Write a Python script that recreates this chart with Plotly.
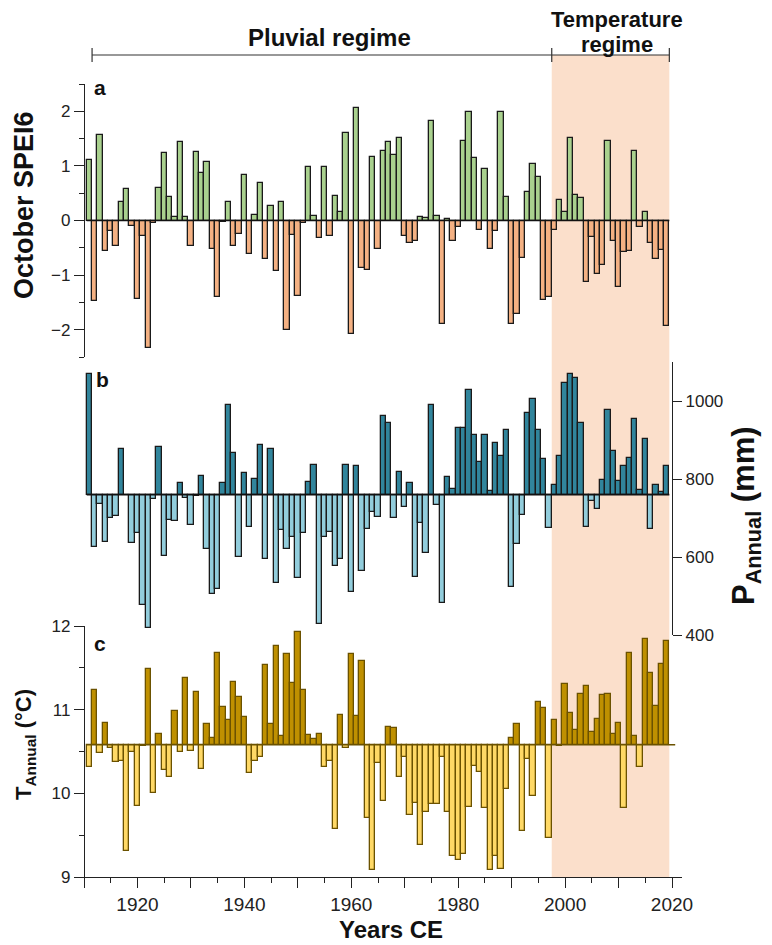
import plotly.graph_objects as go

# ---------------- data ----------------
years = list(range(1911, 2020))

spei_oct = [
    1.11, -1.47, 1.57, -0.56, -0.19, -0.46, 0.33, 0.58, -0.10, -1.44,   # 1911-1920
    -0.29, -2.34, -0.04, 0.60, 1.23, 0.43, 0.06, 1.44, 0.06, -0.46,     # 1921-1930
    1.26, 0.87, 1.08, -0.52, -1.41, -0.03, 0.33, -0.46, -0.24, 0.84,    # 1931-1940
    -0.61, 0.10, 0.68, -0.70, 0.27, -0.92, 0.33, -2.01, -0.26, -1.38,   # 1941-1950
    -0.04, 0.98, 0.09, -0.32, 0.98, -0.28, 0.44, 0.16, 1.61, -2.08,     # 1951-1960
    2.06, -0.87, -0.90, 1.17, -0.52, 1.28, 1.44, 1.20, 1.51, -0.28,     # 1961-1970
    -0.42, -0.37, 0.07, 0.05, 1.82, 0.09, -1.89, 0.02, -0.38, -0.12,    # 1971-1980
    1.46, 1.98, 1.14, -0.17, 0.94, -0.52, -0.20, 1.98, 0.43, -1.89,     # 1981-1990
    -1.72, -0.69, 0.53, 1.04, 0.79, -1.45, -1.41, -0.17, 0.38, 0.15,    # 1991-2000
    1.51, 0.46, 0.41, -1.13, -0.31, -0.98, -0.81, 1.45, -0.38, -1.21,   # 2001-2010
    -0.57, -0.55, 1.28, -0.11, 0.15, -0.42, -0.70, -0.54, -1.94,        # 2011-2019
]

p_annual = [
    1068.6, 626.7, 736.5, 637.8, 699.6, 705.6, 877.2, 758, 637, 661,
    476.5, 418, 749, 882, 603.5, 695.3, 693.6, 789.7, 751, 682.5,
    757, 806.9, 620.7, 504, 516.9, 789.7, 988.8, 867, 601, 815.4,
    678.2, 800.9, 886.7, 595, 878, 533, 669.6, 620.7, 650.7, 545,
    661, 792, 837, 429, 652.4, 663.6, 577.8, 595, 835, 509,
    832.6, 564, 672, 715, 702, 961, 944, 699.6, 818, 727,
    789.7, 549.5, 686.7, 609.5, 991, 734, 480.8, 805, 774, 929.6,
    931, 1027, 914, 843, 914, 768, 892.7, 860, 925, 523.7,
    633.5, 708, 968, 1004, 925, 851.5, 674, 785, 860, 1045,
    1068.6, 1060, 944, 678, 742.5, 723.6, 798, 976, 871, 794,
    834, 854, 952.7, 772.5, 903, 672, 785, 765.7, 834,
]

t_annual = [
    10.31, 11.24, 10.48, 10.84, 10.54, 10.37, 10.39, 9.31, 10.49, 9.85,
    10.57, 11.49, 10.00, 10.71, 10.28, 10.19, 10.98, 10.50, 11.38, 10.51,
    11.21, 10.29, 10.83, 10.66, 11.68, 11.03, 10.88, 11.33, 11.15, 10.91,
    10.24, 10.39, 10.43, 11.53, 10.83, 11.76, 10.69, 11.67, 11.32, 11.93,
    11.23, 10.70, 10.65, 10.71, 10.31, 10.39, 9.57, 10.94, 10.54, 11.66,
    10.93, 11.58, 9.71, 9.08, 10.36, 9.91, 10.79, 10.78, 10.20, 10.43,
    9.74, 9.88, 9.38, 9.78, 9.87, 9.87, 10.44, 9.78, 9.25, 9.20,
    9.27, 9.84, 10.33, 10.26, 9.83, 9.08, 9.25, 9.10, 10.05, 10.66,
    10.83, 9.55, 10.41, 9.97, 11.09, 11.02, 9.47, 10.88, 10.56, 11.31,
    10.96, 10.76, 11.19, 11.28, 10.73, 10.89, 11.18, 11.19, 10.71, 10.84,
    9.82, 11.68, 10.69, 10.32, 11.85, 11.44, 11.04, 11.55, 11.82,
]

SPEI_BASE = 0.0
P_BASE = 760.0
T_BASE = 10.58

x_tick_vals = [1910, 1920, 1930, 1940, 1950, 1960, 1970, 1980, 1990, 2000, 2010, 2020]
x_tick_text = ["", "1920", "", "1940", "", "1960", "", "1980", "", "2000", "", "2020"]
x_minor_vals = [1915, 1925, 1935, 1945, 1955, 1965, 1975, 1985, 1995, 2005, 2015]
spei_ticks = [-2, -1, 0, 1, 2]
p_ticks = [400, 600, 800, 1000]
t_ticks = [9, 10, 11, 12]

regime_start, regime_split, regime_end = 1911.5, 1997.5, 2019.5

# ---------------- styling / geometry ----------------
# the browser page adds an 8px body margin, so the figure is drawn 8px smaller
# and all page-pixel positions are shifted by that offset
OFF = 8
W, H = 772 - OFF, 945 - OFF
PLOT_L, PLOT_R, PLOT_T, PLOT_B = 84, 682, 84, 877          # page pixels
ML, MT = PLOT_L - OFF, PLOT_T - OFF
MR, MB = W - (PLOT_R - OFF), H - (PLOT_B - OFF)
PW, PH = W - ML - MR, H - MT - MB


def px_x(px):
    return (px - PLOT_L) / PW


def px_y(py):
    return (PLOT_B - py) / PH


FONT = "Liberation Sans, Arial, sans-serif"
INK = "#111"
BRACKET_Y = 55

fig = go.Figure()

fig.add_trace(go.Bar(
    x=years, y=[v - SPEI_BASE for v in spei_oct], base=SPEI_BASE,
    width=1.0, xaxis="x", yaxis="y",
    marker=dict(color=["#a9d18e" if v >= SPEI_BASE else "#f4b183" for v in spei_oct],
                line=dict(color="#1a1a1a", width=1.3)),
))
fig.add_trace(go.Bar(
    x=years, y=[v - P_BASE for v in p_annual], base=P_BASE,
    width=1.0, xaxis="x", yaxis="y2",
    marker=dict(color=["#31859c" if v >= P_BASE else "#92cddc" for v in p_annual],
                line=dict(color="#1a1a1a", width=1.3)),
))
fig.add_trace(go.Bar(
    x=years, y=[v - T_BASE for v in t_annual], base=T_BASE,
    width=1.0, xaxis="x", yaxis="y3",
    marker=dict(color=["#bf9000" if v >= T_BASE else "#ffd966" for v in t_annual],
                line=dict(color="#6b5200", width=1.3)),
))

shapes = [
    dict(type="rect", xref="x", yref="paper", x0=regime_split, x1=regime_end,
         y0=0, y1=px_y(BRACKET_Y), fillcolor="#fbdfcb", line=dict(width=0), layer="below"),
    dict(type="line", xref="x", yref="y", x0=years[0] - 0.5, x1=years[-1] + 0.5,
         y0=SPEI_BASE, y1=SPEI_BASE, line=dict(color=INK, width=1.6)),
    dict(type="line", xref="x", yref="y2", x0=years[0] - 0.5, x1=years[-1] + 0.5,
         y0=P_BASE, y1=P_BASE, line=dict(color=INK, width=1.6)),
    dict(type="line", xref="x", yref="y3", x0=years[0] - 0.5, x1=years[-1] + 1.6,
         y0=T_BASE, y1=T_BASE, line=dict(color="#6b5200", width=1.6)),
    dict(type="line", xref="x", yref="paper", x0=regime_start, x1=regime_end,
         y0=px_y(BRACKET_Y), y1=px_y(BRACKET_Y), line=dict(color="#333", width=1.2)),
]
for xb in (regime_start, regime_split, regime_end):
    shapes.append(dict(type="line", xref="x", yref="paper", x0=xb, x1=xb,
                       y0=px_y(BRACKET_Y - 7), y1=px_y(BRACKET_Y + 7),
                       line=dict(color="#333", width=1.2)))


def bold(size):
    return dict(family=FONT, size=size, color=INK, weight="bold")


annotations = [
    dict(text="Pluvial regime", x=px_x(329), y=px_y(37), font=bold(24)),
    dict(text="Temperature", x=px_x(617), y=px_y(20), font=bold(22)),
    dict(text="regime", x=px_x(617), y=px_y(45), font=bold(22)),
    dict(text="a", x=px_x(100), y=px_y(87), font=bold(21)),
    dict(text="b", x=px_x(102), y=px_y(379), font=bold(21)),
    dict(text="c", x=px_x(100), y=px_y(643), font=bold(21)),
    dict(text="October SPEI6", x=px_x(24), y=px_y(205), textangle=-90, font=bold(27)),
    dict(text="P<sub>Annual</sub> (mm)", x=px_x(746), y=px_y(516), textangle=-90, font=bold(31)),
    dict(text="T<sub>Annual</sub> (°C)", x=px_x(25), y=px_y(745), textangle=-90, font=bold(22)),
    dict(text="Years CE", x=px_x(391), y=px_y(929), font=bold(24)),
]
for a in annotations:
    a.update(xref="paper", yref="paper", xanchor="center", yanchor="middle", showarrow=False,
             borderpad=0)

yfont = dict(family=FONT, size=17, color="#222")
axis_common = dict(showline=True, linecolor="#222", linewidth=1.2, ticks="outside",
                   ticklen=10, tickwidth=1.2, tickcolor="#222", showgrid=False,
                   zeroline=False, tickfont=yfont, automargin=False)
minor_y = dict(ticklen=5, tickwidth=1.2, tickcolor="#222", ticks="outside", showgrid=False)

fig.update_layout(
    width=W, height=H,
    margin=dict(l=ML, r=MR, t=MT, b=MB, autoexpand=False),
    paper_bgcolor="white", plot_bgcolor="rgba(0,0,0,0)",
    showlegend=False, barmode="overlay", bargap=0,
    shapes=shapes, annotations=annotations,
    xaxis=dict(
        range=[1909.99, 2021.87], anchor="y3",
        tickmode="array", tickvals=x_tick_vals, ticktext=x_tick_text,
        minor=dict(tickmode="array", tickvals=x_minor_vals, ticklen=5,
                   tickwidth=1.2, tickcolor="#222", ticks="outside", showgrid=False),
        **{**axis_common, "tickfont": dict(family=FONT, size=19, color="#222")},
    ),
    yaxis=dict(
        domain=[px_y(357), 1.0], range=[-2.5, 2.5], anchor="free", position=0,
        tickmode="array", tickvals=spei_ticks,
        minor=dict(dtick=0.5, tick0=0, **minor_y),
        **axis_common,
    ),
    yaxis2=dict(
        domain=[px_y(635), px_y(362)], range=[400, 1100], anchor="free",
        position=px_x(672), side="right",
        tickmode="array", tickvals=p_ticks,
        **{**axis_common, "ticklen": 9},
    ),
    yaxis3=dict(
        domain=[0, px_y(626)], range=[9, 12], anchor="free", position=0,
        tickmode="array", tickvals=t_ticks,
        minor=dict(dtick=0.5, tick0=9, **minor_y),
        **axis_common,
    ),
)

fig.write_html("out.html")
